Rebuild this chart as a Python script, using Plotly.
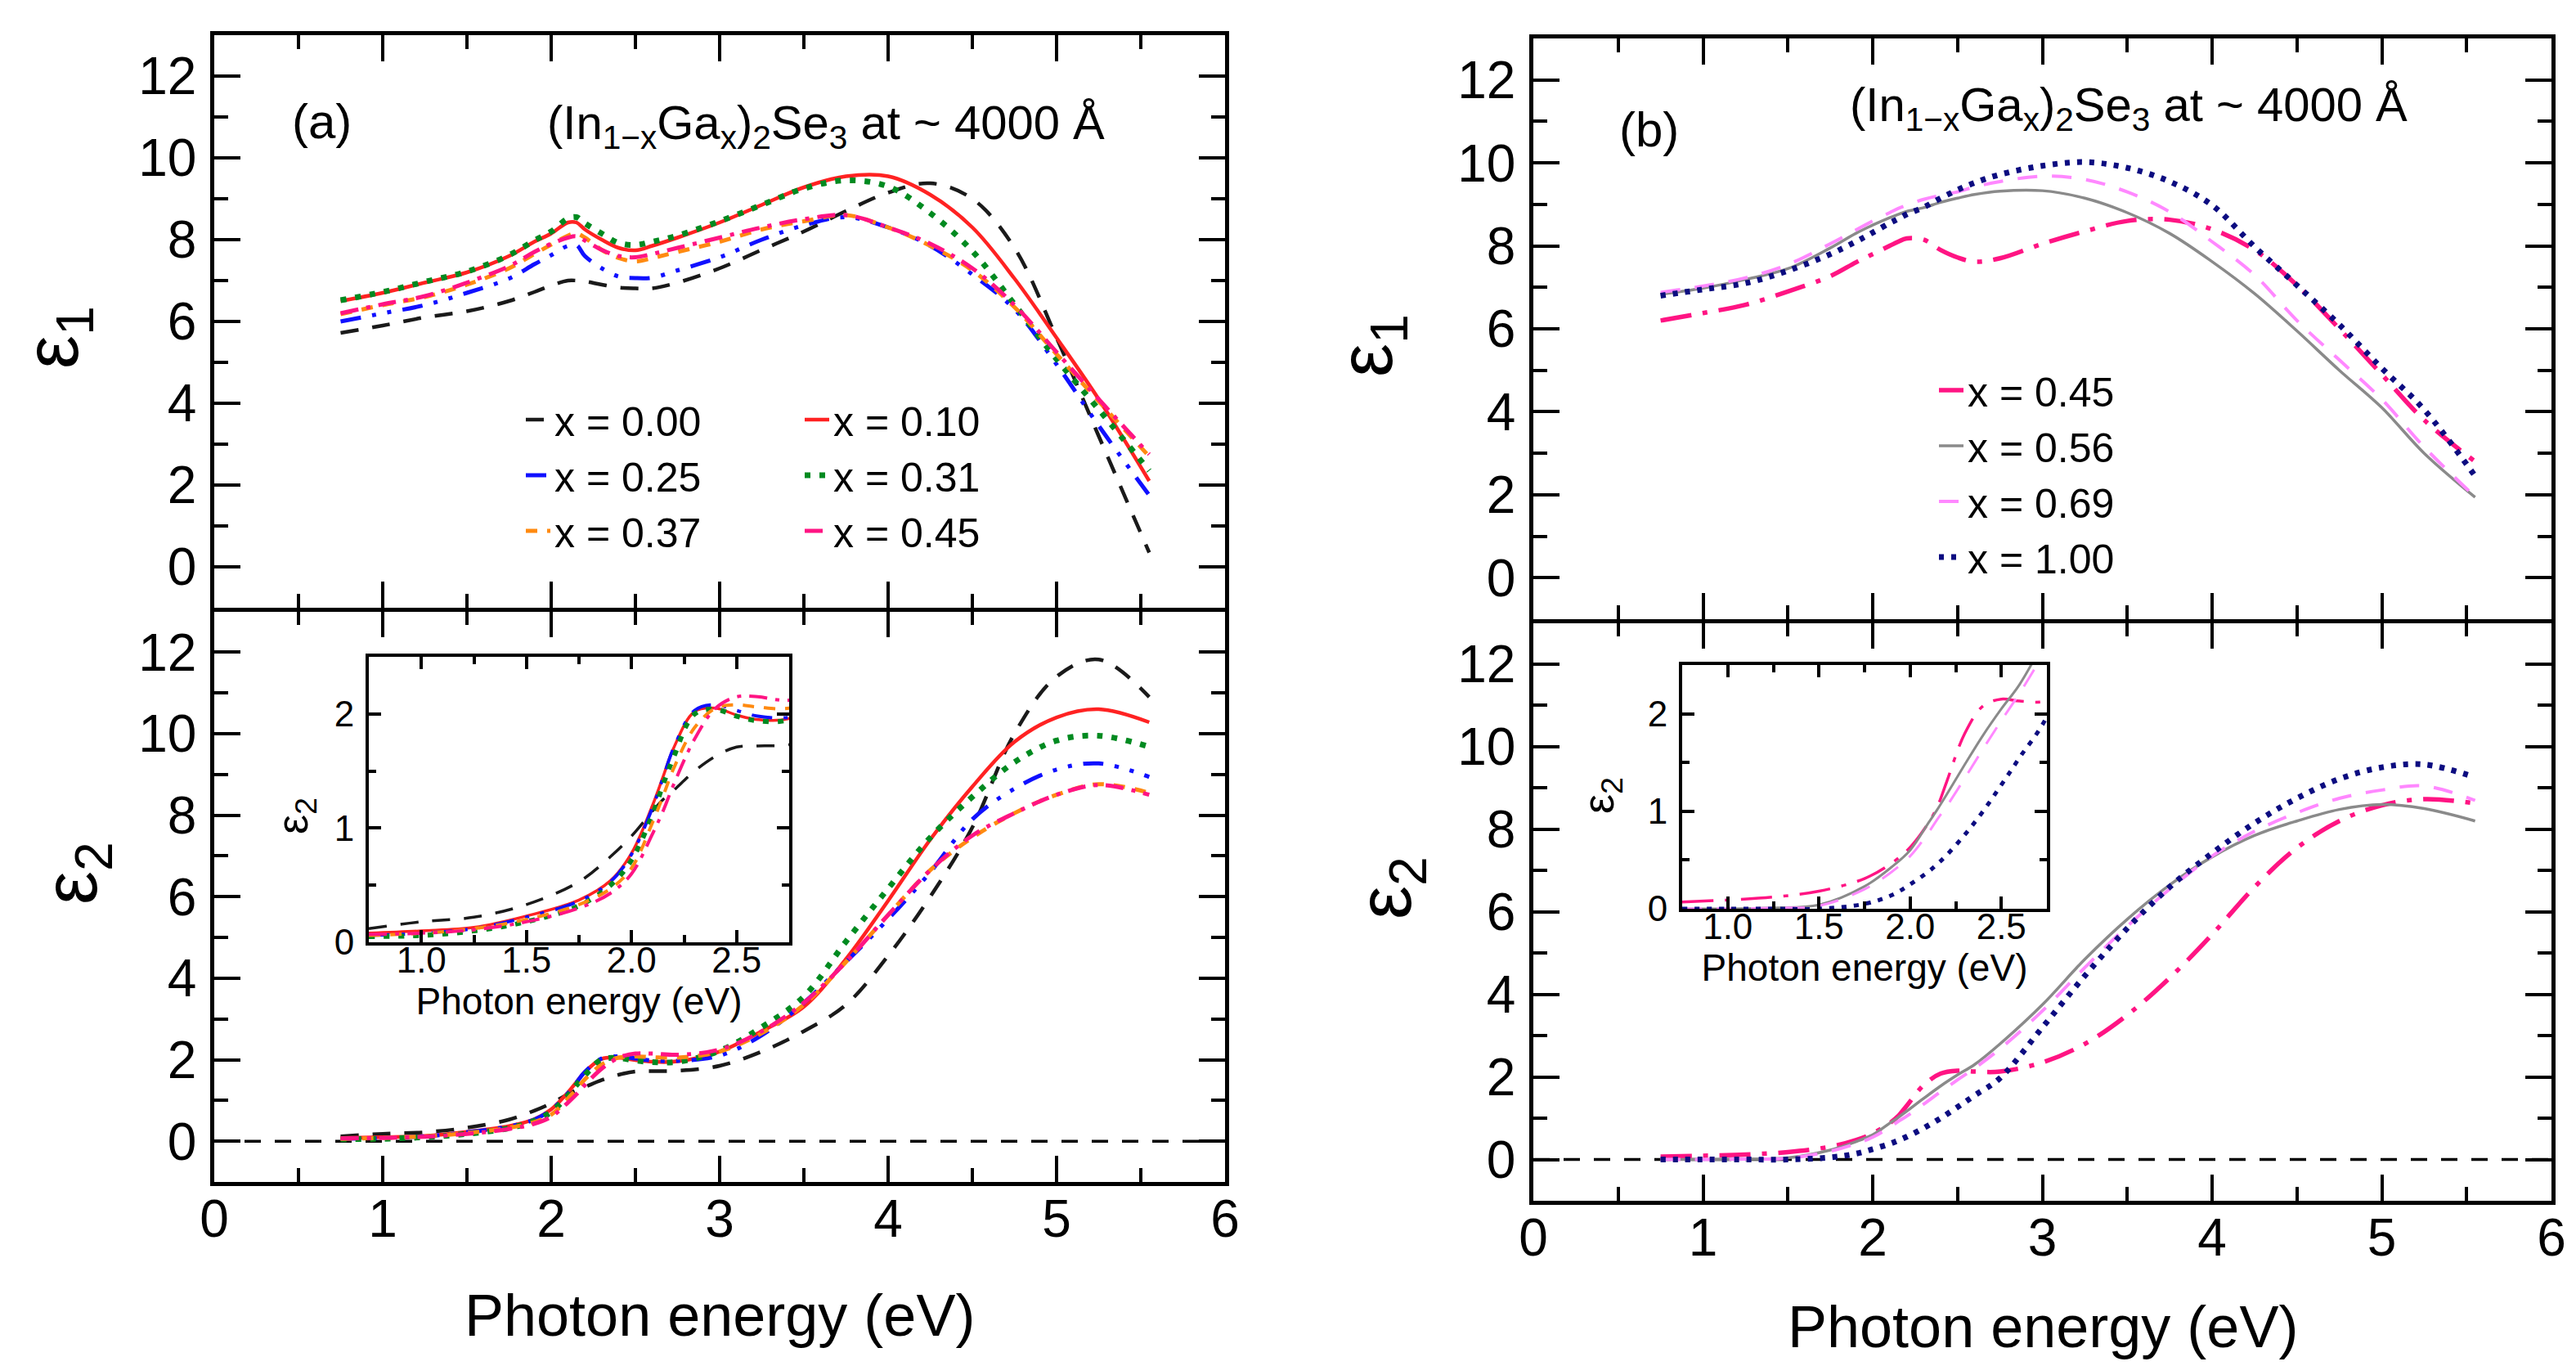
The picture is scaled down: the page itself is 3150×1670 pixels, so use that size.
import plotly.graph_objects as go

# ---------------- data ----------------
E = [0.75, 1.0, 1.25, 1.5, 1.75, 1.9, 2.0, 2.1, 2.15, 2.2, 2.3, 2.4, 2.5, 2.6, 2.75,
     3.0, 3.25, 3.5, 3.75, 4.0, 4.25, 4.5, 4.75, 5.0, 5.25, 5.55]

# panel (a) epsilon_1
E1_X000 = [5.72, 5.9, 6.1, 6.25, 6.5, 6.72, 6.88, 7.0, 7.0, 6.98, 6.9, 6.83, 6.81, 6.81, 6.95,
           7.3, 7.75, 8.2, 8.7, 9.15, 9.38, 9.0, 7.8, 5.6, 3.2, 0.35]
E1_X010 = [6.5, 6.7, 6.95, 7.2, 7.6, 7.95, 8.15, 8.42, 8.42, 8.25, 8.0, 7.8, 7.74, 7.85, 8.05,
           8.42, 8.85, 9.28, 9.55, 9.55, 9.1, 8.3, 7.05, 5.6, 4.1, 2.1]
E1_X025 = [6.0, 6.2, 6.4, 6.7, 7.05, 7.4, 7.62, 7.85, 7.87, 7.6, 7.3, 7.1, 7.06, 7.07, 7.25,
           7.57, 8.0, 8.35, 8.55, 8.3, 7.85, 7.15, 6.3, 4.95, 3.45, 1.75]
E1_X031 = [6.52, 6.72, 6.97, 7.22, 7.62, 7.98, 8.2, 8.52, 8.55, 8.4, 8.15, 7.92, 7.87, 7.95, 8.1,
           8.45, 8.85, 9.25, 9.45, 9.3, 8.65, 7.72, 6.42, 5.08, 3.85, 2.35]
E1_X037 = [6.18, 6.4, 6.6, 6.9, 7.3, 7.65, 7.88, 8.1, 8.15, 8.05, 7.75, 7.55, 7.47, 7.55, 7.7,
           7.95, 8.25, 8.45, 8.6, 8.3, 7.85, 7.25, 6.35, 5.2, 4.05, 2.7]
E1_X045 = [6.2, 6.42, 6.62, 6.95, 7.35, 7.7, 7.9, 8.05, 8.08, 7.98, 7.75, 7.6, 7.57, 7.65, 7.8,
           8.05, 8.3, 8.5, 8.6, 8.3, 7.9, 7.3, 6.4, 5.25, 4.1, 2.75]

# panel (a) epsilon_2
E2_X000 = [0.12, 0.18, 0.22, 0.33, 0.53, 0.75, 0.93, 1.15, 1.25, 1.33, 1.5, 1.63, 1.71, 1.72, 1.73,
           1.85, 2.2, 2.7, 3.35, 4.55, 6.0, 7.7, 10.0, 11.4, 11.82, 10.9]
E2_X010 = [0.08, 0.1, 0.13, 0.23, 0.37, 0.54, 0.78, 1.2, 1.45, 1.7, 2.02, 2.05, 1.99, 1.95, 1.96,
           2.2, 2.7, 3.3, 4.47, 5.9, 7.4, 8.7, 9.8, 10.4, 10.6, 10.28]
E2_X025 = [0.06, 0.08, 0.12, 0.22, 0.36, 0.53, 0.77, 1.18, 1.44, 1.7, 2.03, 2.08, 2.03, 1.98, 1.97,
           2.1, 2.6, 3.4, 4.4, 5.45, 6.6, 7.9, 8.65, 9.12, 9.27, 8.94]
E2_X031 = [0.05, 0.06, 0.1, 0.18, 0.32, 0.5, 0.72, 1.12, 1.38, 1.62, 2.0, 2.04, 1.98, 1.94, 1.95,
           2.22, 2.8, 3.55, 4.9, 6.2, 7.45, 8.45, 9.3, 9.83, 9.95, 9.68]
E2_X037 = [0.06, 0.08, 0.12, 0.2, 0.33, 0.47, 0.65, 1.05, 1.28, 1.52, 1.88, 2.05, 2.08, 2.06, 2.05,
           2.2, 2.65, 3.35, 4.4, 5.55, 6.65, 7.45, 8.05, 8.5, 8.76, 8.55]
E2_X045 = [0.07, 0.08, 0.11, 0.18, 0.3, 0.43, 0.6, 0.95, 1.15, 1.38, 1.78, 2.05, 2.15, 2.15, 2.12,
           2.25, 2.7, 3.4, 4.4, 5.55, 6.65, 7.5, 8.05, 8.5, 8.74, 8.5]

# panel (b) epsilon_1
E1B_X045 = [6.2, 6.38, 6.58, 6.9, 7.27, 7.6, 7.8, 8.0, 8.1, 8.18, 8.15, 7.9, 7.72, 7.62, 7.7,
            8.05, 8.35, 8.6, 8.63, 8.4, 7.9, 7.05, 6.0, 4.9, 3.8, 2.8]
E1B_X056 = [6.83, 6.98, 7.19, 7.45, 7.95, 8.3, 8.5, 8.68, 8.76, 8.83, 8.92, 9.05, 9.15, 9.24, 9.32,
            9.33, 9.15, 8.8, 8.3, 7.62, 6.85, 5.95, 5.0, 4.1, 3.0, 1.94]
E1B_X069 = [6.88, 7.03, 7.23, 7.55, 8.05, 8.38, 8.6, 8.8, 8.9, 8.98, 9.12, 9.22, 9.3, 9.42, 9.55,
            9.68, 9.6, 9.3, 8.82, 8.1, 7.3, 6.2, 5.25, 4.3, 3.15, 1.95]
E1B_X100 = [6.8, 6.95, 7.1, 7.4, 7.8, 8.1, 8.32, 8.55, 8.65, 8.76, 8.93, 9.15, 9.35, 9.52, 9.72,
            9.93, 10.02, 9.88, 9.55, 8.98, 7.98, 7.05, 6.1, 5.05, 4.05, 2.45]

# panel (b) epsilon_2
E2B_X045 = [0.07, 0.09, 0.12, 0.18, 0.31, 0.47, 0.63, 0.88, 1.05, 1.3, 1.8, 2.08, 2.15, 2.13, 2.13,
            2.35, 2.8, 3.5, 4.4, 5.45, 6.6, 7.55, 8.2, 8.58, 8.73, 8.63]
E2B_X056 = [0.0, 0.0, 0.01, 0.04, 0.23, 0.43, 0.6, 0.88, 1.02, 1.17, 1.48, 1.78, 2.05, 2.3, 2.8,
            3.75, 4.85, 5.82, 6.65, 7.33, 7.85, 8.2, 8.48, 8.6, 8.5, 8.2]
E2B_X069 = [0.0, 0.0, 0.01, 0.03, 0.2, 0.38, 0.54, 0.78, 0.92, 1.05, 1.34, 1.64, 1.93, 2.21, 2.68,
            3.6, 4.65, 5.65, 6.55, 7.35, 7.95, 8.4, 8.75, 8.95, 9.05, 8.7]
E2B_X100 = [0.0, 0.0, 0.0, 0.0, 0.05, 0.14, 0.25, 0.38, 0.46, 0.55, 0.76, 1.0, 1.27, 1.55, 1.97,
            3.2, 4.45, 5.6, 6.6, 7.42, 8.15, 8.75, 9.22, 9.5, 9.57, 9.26]

LABELS_A = ["x = 0.00", "x = 0.10", "x = 0.25", "x = 0.31", "x = 0.37", "x = 0.45"]
LABELS_B = ["x = 0.45", "x = 0.56", "x = 0.69", "x = 1.00"]

# ---------------- styles ----------------
FONT = "Arial, Liberation Sans, Helvetica, sans-serif"
STY_A = [
    dict(color="#1a1a1a", width=4.5, dash="22px,17px"),
    dict(color="#ff2222", width=4.5, dash="solid"),
    dict(color="#1010ff", width=5, dash="25px,14px,5px,14px,5px,14px"),
    dict(color="#008a20", width=7, dash="7px,11px"),
    dict(color="#ff8a10", width=5, dash="14px,12px"),
    dict(color="#ff1483", width=5, dash="22px,10px,5px,10px"),
]
STY_B = [
    dict(color="#ff1483", width=5.5, dash="38px,14px,6px,14px"),
    dict(color="#8a8a8a", width=3.5, dash="solid"),
    dict(color="#ff88ff", width=4, dash="24px,18px"),
    dict(color="#0c0c80", width=7, dash="6px,9px"),
]
LEG_A = ["legend", "legend2", "legend", "legend2", "legend", "legend2"]

fig = go.Figure()

A1 = [E1_X000, E1_X010, E1_X025, E1_X031, E1_X037, E1_X045]
A2 = [E2_X000, E2_X010, E2_X025, E2_X031, E2_X037, E2_X045]
B1 = [E1B_X045, E1B_X056, E1B_X069, E1B_X100]
B2 = [E2B_X045, E2B_X056, E2B_X069, E2B_X100]

for i, lab in enumerate(LABELS_A):
    fig.add_trace(go.Scatter(x=E, y=A1[i], mode="lines", name=lab, line=dict(**STY_A[i], shape="spline"),
                             xaxis="x", yaxis="y", legend=LEG_A[i], showlegend=True))
for i, lab in enumerate(LABELS_A):
    fig.add_trace(go.Scatter(x=E, y=A2[i], mode="lines", name=lab, line=dict(**STY_A[i], shape="spline"),
                             xaxis="x2", yaxis="y2", showlegend=False))
for i, lab in enumerate(LABELS_A):
    s = dict(STY_A[i]); s["width"] = max(3.5, s["width"] - 1)
    fig.add_trace(go.Scatter(x=E, y=A2[i], mode="lines", name=lab, line=dict(**s, shape="spline"),
                             xaxis="x5", yaxis="y5", showlegend=False))
for i, lab in enumerate(LABELS_B):
    fig.add_trace(go.Scatter(x=E, y=B1[i], mode="lines", name=lab, line=dict(**STY_B[i], shape="spline"),
                             xaxis="x3", yaxis="y3", legend="legend3", showlegend=True))
for i, lab in enumerate(LABELS_B):
    fig.add_trace(go.Scatter(x=E, y=B2[i], mode="lines", name=lab, line=dict(**STY_B[i], shape="spline"),
                             xaxis="x4", yaxis="y4", showlegend=False))
for i, lab in enumerate(LABELS_B):
    s = dict(STY_B[i]); s["width"] = max(3.0, s["width"] - 2)
    fig.add_trace(go.Scatter(x=E, y=B2[i], mode="lines", name=lab, line=dict(**s, shape="spline"),
                             xaxis="x6", yaxis="y6", showlegend=False))

W, H = 3150, 1670


def px_x(p):
    return p / W


def px_y(p):
    return 1 - p / H


def main_axis(kind, domain, anchor, labels=True):
    d = dict(domain=domain, anchor=anchor, automargin=False, layer="above traces",
             showline=True, linewidth=4.5, linecolor="black",
             mirror="ticks", ticks="inside", ticklen=32, tickwidth=4, tickcolor="black",
             zeroline=False, showgrid=False, showticklabels=labels,
             tickfont=dict(size=64, color="black", family=FONT))
    if kind == "x":
        d.update(range=[0, 6], tick0=0, dtick=1,
                 minor=dict(dtick=0.5, ticks="inside", ticklen=17, tickwidth=4, tickcolor="black", showgrid=False),
                 ticklabelstandoff=-15)
    else:
        d.update(range=[-1, 13], tick0=0, dtick=2,
                 minor=dict(dtick=1, ticks="inside", ticklen=17, tickwidth=4, tickcolor="black", showgrid=False),
                 ticklabelstandoff=4)
    return d


def inset_axis(kind, domain, anchor, title=None):
    d = dict(domain=domain, anchor=anchor, automargin=False, layer="above traces",
             showline=True, linewidth=4, linecolor="black",
             mirror="ticks", ticks="inside", ticklen=15, tickwidth=3.5, tickcolor="black",
             zeroline=False, showgrid=False,
             tickfont=dict(size=44, color="black", family=FONT))
    if kind == "x":
        d.update(range=[0.75, 2.75], tick0=0, dtick=0.5, tickformat=".1f",
                 minor=dict(dtick=0.25, ticks="inside", ticklen=9, tickwidth=3.5, tickcolor="black", showgrid=False),
                 ticklabelstandoff=-20)
        if title:
            d["title"] = dict(text=title, font=dict(size=46, color="black", family=FONT), standoff=12)
    else:
        d.update(range=[0, 2.5], tick0=0, dtick=1,
                 minor=dict(dtick=0.5, ticks="inside", ticklen=9, tickwidth=3.5, tickcolor="black", showgrid=False),
                 ticklabelstandoff=5)
    return d


# domains (pixel positions of the frames); the shared middle edges overlap by the line width
XA = [px_x(254), px_x(1490)]
XB = [px_x(1867), px_x(3112)]
YA_TOP = [px_y(735), px_y(35)]
YA_BOT = [px_y(1437), px_y(739.5)]
YB_TOP = [px_y(749), px_y(39)]
YB_BOT = [px_y(1460), px_y(753.5)]

fig.update_layout(
    template="none",
    width=W, height=H, margin=dict(l=0, r=0, t=0, b=0, pad=0, autoexpand=False),
    paper_bgcolor="white", plot_bgcolor="rgba(0,0,0,0)",
    font=dict(family=FONT, color="black"),
    xaxis=main_axis("x", XA, "y", labels=False),
    yaxis=main_axis("y", YA_TOP, "x"),
    xaxis2=main_axis("x", XA, "y2"),
    yaxis2=main_axis("y", YA_BOT, "x2"),
    xaxis3=main_axis("x", XB, "y3", labels=False),
    yaxis3=main_axis("y", YB_TOP, "x3"),
    xaxis4=main_axis("x", XB, "y4"),
    yaxis4=main_axis("y", YB_BOT, "x4"),
    xaxis5=inset_axis("x", [px_x(443), px_x(957)], "y5", title="Photon energy (eV)"),
    yaxis5=inset_axis("y", [px_y(1144), px_y(795)], "x5"),
    xaxis6=inset_axis("x", [px_x(2049), px_x(2495)], "y6", title="Photon energy (eV)"),
    yaxis6=inset_axis("y", [px_y(1103), px_y(805)], "x6"),
    legend=dict(x=px_x(630), y=px_y(466), xanchor="left", yanchor="top",
                font=dict(size=50, family=FONT), bgcolor="rgba(0,0,0,0)", tracegroupgap=0),
    legend2=dict(x=px_x(971), y=px_y(466), xanchor="left", yanchor="top",
                 font=dict(size=50, family=FONT), bgcolor="rgba(0,0,0,0)", tracegroupgap=0),
    legend3=dict(x=px_x(2358), y=px_y(430), xanchor="left", yanchor="top",
                 font=dict(size=50, family=FONT), bgcolor="rgba(0,0,0,0)", tracegroupgap=0),
)

# zero reference lines in the epsilon_2 panels
for xr, yr in (("x2", "y2"), ("x4", "y4")):
    fig.add_shape(type="line", xref=xr + " domain", yref=yr, x0=0, x1=1, y0=0, y1=0,
                  line=dict(color="black", width=3.5, dash="20px,17px"), layer="below")

TITLE = "(In<sub>1\u2212x</sub>Ga<sub>x</sub>)<sub>2</sub>Se<sub>3</sub> at ~ 4000 \u00c5"
ann = [
    dict(text="(a)", x=px_x(385), y=px_y(140), size=60, angle=0),
    dict(text="(b)", x=px_x(2008), y=px_y(150), size=60, angle=0),
    dict(text=TITLE, x=px_x(1002), y=px_y(146), size=58, angle=0),
    dict(text=TITLE, x=px_x(2595), y=px_y(124), size=58, angle=0),
    dict(text="Photon energy (eV)", x=px_x(872), y=px_y(1600), size=72, angle=0),
    dict(text="Photon energy (eV)", x=px_x(2490), y=px_y(1614), size=72, angle=0),
    dict(text="\u03b5<sub>1</sub>", x=px_x(62), y=px_y(405), size=92, angle=-90),
    dict(text="\u03b5<sub>2</sub>", x=px_x(85), y=px_y(1060), size=92, angle=-90),
    dict(text="\u03b5<sub>1</sub>", x=px_x(1669), y=px_y(415), size=92, angle=-90),
    dict(text="\u03b5<sub>2</sub>", x=px_x(1692), y=px_y(1078), size=92, angle=-90),
    dict(text="\u03b5<sub>2</sub>", x=px_x(353), y=px_y(990), size=54, angle=-90),
    dict(text="\u03b5<sub>2</sub>", x=px_x(1950), y=px_y(965), size=54, angle=-90),
]
for a in ann:
    fig.add_annotation(text=a["text"], x=a["x"], y=a["y"], xref="paper", yref="paper",
                       xanchor="center", yanchor="middle", showarrow=False, textangle=a["angle"],
                       font=dict(size=a["size"], color="black", family=FONT))

fig.write_html("out.html")
